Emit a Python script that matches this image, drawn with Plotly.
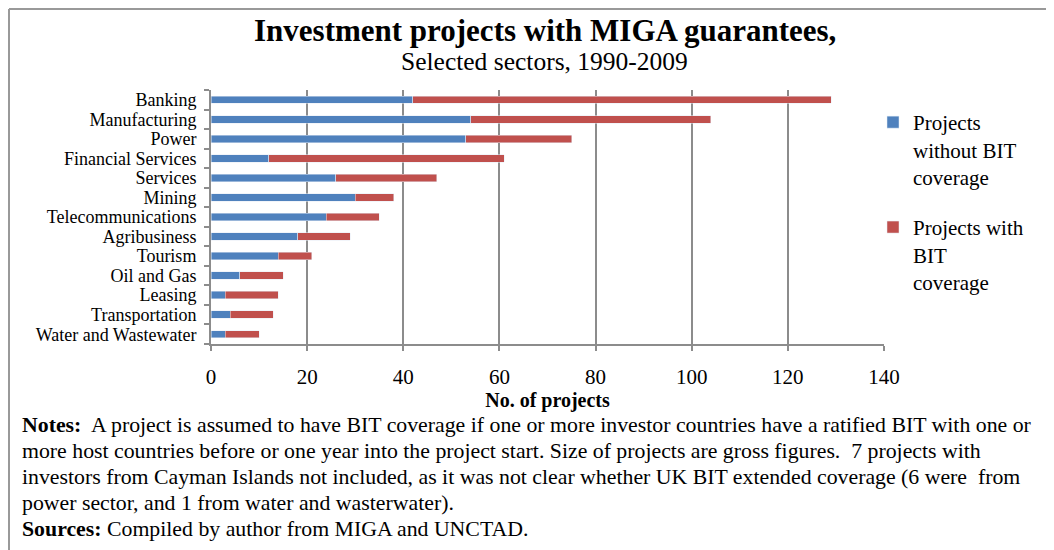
import plotly.graph_objects as go

sectors = ["Banking", "Manufacturing", "Power", "Financial Services", "Services",
           "Mining", "Telecommunications", "Agribusiness", "Tourism", "Oil and Gas",
           "Leasing", "Transportation", "Water and Wastewater"]
without_bit = [42, 54, 53, 12, 26, 30, 24, 18, 14, 6, 3, 4, 3]
with_bit = [87, 50, 22, 49, 21, 8, 11, 11, 7, 9, 11, 9, 7]
x_ticks = [0, 20, 40, 60, 80, 100, 120, 140]

notes_lines = [
    "<b>Notes:</b>  A project is assumed to have BIT coverage if one or more investor countries have a ratified BIT with one or",
    "more host countries before or one year into the project start. Size of projects are gross figures.  7 projects with",
    "investors from Cayman Islands not included, as it was not clear whether UK BIT extended coverage (6 were  from",
    "power sector, and 1 from water and wasterwater).",
    "<b>Sources:</b> Compiled by author from MIGA and UNCTAD.",
]

# the page body has an 8px margin, so the figure starts at (8, 8) in the window
OFF = 8
W, H = 1054 - OFF, 550 - OFF
L, R, T, B = 211, 884, 90, 344   # plot area in window pixels

def px(x):
    return (x - L) / (R - L)

def py(y):
    return (B - y) / (B - T)

serif = "Liberation Serif"
grey = "#8c8c8c"

fig = go.Figure()
fig.add_trace(go.Bar(y=sectors, x=without_bit, orientation="h", name="Projects<br>without BIT<br>coverage",
                     marker_color="#4F81BD", width=0.38, legendgroup="a"))
fig.add_trace(go.Bar(y=sectors, x=with_bit, orientation="h", name="Projects with<br>BIT<br>coverage",
                     marker_color="#C0504D", width=0.38, legendgroup="b"))

fig.update_layout(
    width=W, height=H, barmode="stack",
    margin=dict(l=L - OFF, r=1054 - R, t=T - OFF, b=550 - B),
    paper_bgcolor="white", plot_bgcolor="white",
    font=dict(family=serif, color="black"),
    legend=dict(x=px(873), y=py(102), xanchor="left", yanchor="top", traceorder="grouped",
                valign="top", tracegroupgap=20, font=dict(size=21, family=serif)),
    xaxis=dict(range=[0, 140], tickvals=x_ticks, showgrid=True, gridcolor=grey, gridwidth=2,
               showline=True, linecolor=grey, linewidth=2, ticks="outside", ticklen=5,
               tickcolor=grey, tickwidth=2, tickfont=dict(size=21), zeroline=False,
               ticklabelstandoff=8,
               title=dict(text="<b>No. of projects</b>", font=dict(size=20), standoff=0)),
    yaxis=dict(autorange="reversed", showline=True, linecolor=grey, linewidth=2,
               tickmode="array", tickvals=sectors, ticktext=sectors,
               ticks="outside", tickson="boundaries", ticklen=5, tickcolor=grey, tickwidth=2,
               ticklabelstandoff=9, tickfont=dict(size=18), showgrid=False),
)

fig.add_annotation(text="<b>Investment projects with MIGA guarantees,</b>", xref="paper", yref="paper",
                   x=px(545), y=py(31), showarrow=False, font=dict(size=31), yanchor="middle")
fig.add_annotation(text="Selected sectors, 1990-2009", xref="paper", yref="paper",
                   x=px(544), y=py(62), showarrow=False, font=dict(size=25.5), yanchor="middle")
for i, line in enumerate(notes_lines):
    fig.add_annotation(text=line, xref="paper", yref="paper", x=px(20), y=py(425 + 26 * i),
                       xanchor="left", yanchor="middle", align="left", showarrow=False,
                       font=dict(size=21.8))

# frame around the figure
fig.add_shape(type="line", xref="paper", yref="paper", x0=px(9), x1=px(9), y0=py(560), y1=py(9),
              line=dict(color="#999999", width=2))
fig.add_shape(type="line", xref="paper", yref="paper", x0=px(9), x1=px(1060), y0=py(9), y1=py(9),
              line=dict(color="#999999", width=2))

fig.write_html("out.html")
